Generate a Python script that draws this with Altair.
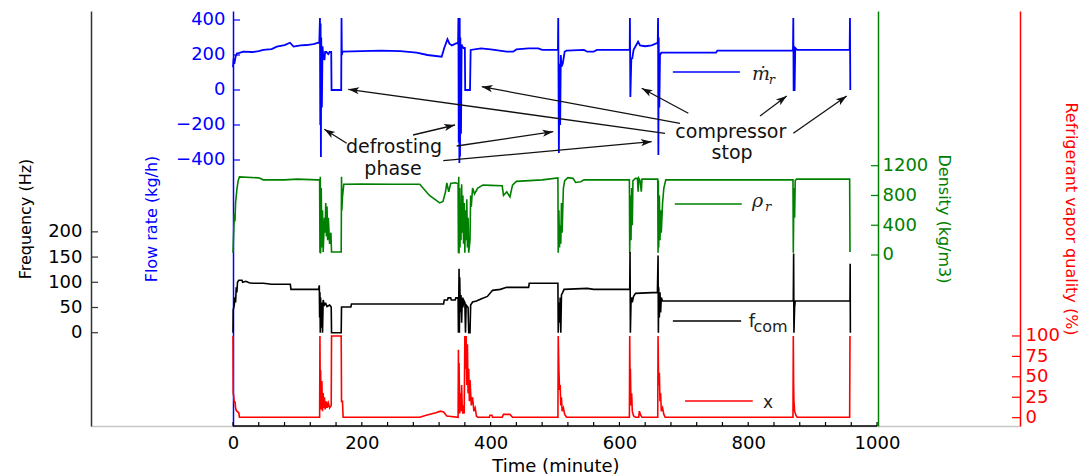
import math
import pandas as pd
import altair as alt

# ---------------- data (time in minutes) ----------------
flow_pts = [
    (0, 130), (1, 180), (2, 150), (4, 190), (6, 209), (10, 212), (16, 219), (30, 217), (40, 222), (47, 229),
    (60, 234), (68, 248), (80, 257), (88.5, 270), (94, 248), (105, 255), (114, 257), (125, 262), (132.5, 270),
    (134, 270), (135, 411), (135.5, -200), (136, 380), (136.5, -383), (137, 300), (138, -100), (139, 250),
    (140, 200), (142, 171), (143, 217), (145, 217), (148, 205), (150, 217), (152.5, 217), (153, 0), (168, 0),
    (168.5, 411), (169, 200), (170, 219), (200, 222), (230, 225), (260, 222), (285, 213), (302, 200), (324, 190),
    (328, 240), (333, 290), (336, 265), (340, 255), (347, 267), (349.5, 267),
    (350, 411), (350.5, -300), (351, 380), (351.5, -417), (352, 411), (352.5, -380), (353, 300), (354, -250),
    (355, 260), (356, 250), (358, 240), (360, 240), (360.5, 0), (368, 0), (369, 229),
    (385, 238), (400, 232), (425, 219), (435, 219), (440, 232), (459, 238), (474, 238), (480, 229), (504.5, 229),
    (505, 411), (506, -360), (507, 150), (508, -200), (509, 200), (510, 133), (512, 150), (515, 220), (518, 225),
    (545, 229), (550, 219), (560, 219), (565, 229), (616, 229),
    (616.3, 411), (617, -40), (618.5, 180), (620, 181), (622, 230), (629, 276), (632, 255), (640, 250), (650, 255),
    (658, 267), (659.5, 267),
    (660, 411), (660.5, -371), (661, 300), (662, -100), (663, 200), (665, 213), (750, 213), (752, 225), (869.5, 225),
    (870, 411), (870.5, 0), (872, 0), (873, 240), (876, 229), (957.5, 229), (958, 411), (958.5, 0),
]

dens_pts = [
    (0, 30), (1, 300), (2, 550), (3, 450), (4, 700), (6, 880), (8, 1000), (10, 1050), (40, 1037), (47, 1010),
    (80, 1010), (100, 1020), (130, 1010), (134.5, 1010),
    (135, 30), (135.5, 1050), (136, 20), (137, 900), (138, 100), (139, 600), (140, 40), (142, 500), (143, 300),
    (144, 700), (145, 250), (146, 650), (147, 200), (148, 500), (150, 150), (152, 300), (153, 40), (168, 40),
    (168.5, 1050), (169, 600), (170, 780), (172, 950),
    (200, 955), (250, 950), (290, 950), (305, 800), (321, 700), (326, 720), (330, 850), (332, 970), (335, 850),
    (338, 960), (345, 970), (349.5, 960),
    (350, 30), (350.5, 1050), (351, 20), (352, 900), (352.5, 100), (353, 700), (354, 200), (355, 950), (356, 300),
    (357, 800), (358, 150), (359, 700), (360, 30), (361, 600), (362, 200), (363, 750), (364, 100), (365, 500),
    (366, 30), (368, 200), (369, 800), (370, 650), (372, 900),
    (375, 820), (380, 900), (388, 940), (400, 935), (418, 930), (420, 800), (425, 850), (430, 780), (434, 940),
    (440, 990), (460, 1000), (480, 1010), (504.5, 1037),
    (505, 30), (506, 600), (507, 100), (508, 400), (509, 150), (510, 700), (511, 300), (513, 900), (515, 1000),
    (520, 1040), (528, 1030), (532, 975), (540, 985), (545, 1010), (615.5, 1010),
    (616, 30), (617, 800), (618, 200), (619, 900), (620, 400), (621, 1000), (625, 1030), (628, 1030), (629, 850),
    (630, 1030), (632, 1000), (634, 850), (635, 1020), (659.5, 1020),
    (660, 30), (660.5, 1000), (661, 100), (662, 800), (663, 200), (664, 600), (665, 300), (667, 700), (669, 900),
    (672, 1010), (869.5, 1010),
    (870, 30), (871, 900), (872, 500), (873, 1000), (875, 1020), (957.5, 1020), (958, 40),
]

freq_pts = [
    (0, 0), (0.3, 45), (2, 55), (3, 70), (4, 60), (5, 90), (6, 80), (7, 100), (9, 104), (14, 104), (15, 100),
    (20, 102), (25, 99), (30, 98), (47, 98), (60, 96), (89, 96), (90, 86), (133, 86),
    (134, 94), (134.5, 30), (135, 80), (135.5, 0), (136, 70), (137, 10), (138, 60), (139, 0), (140, 65), (142, 55),
    (144, 58), (146, 52), (150, 55), (152.5, 51), (153, 0), (168, 0), (168.5, 51), (183, 51), (184, 57), (327, 57),
    (328, 65), (333, 65), (334, 69), (338, 69), (339, 65), (345, 65), (346, 69), (349.5, 69),
    (350, 0), (351, 127), (351.5, 0), (352, 110), (353, 40), (354, 75), (355, 20), (356, 70), (357, 50), (358, 65),
    (360, 60), (361, 0), (362, 55), (365, 50), (366, 0), (368, 0), (369, 55), (372, 61),
    (378, 63), (385, 67), (395, 72), (403, 84), (415, 86), (425, 90), (459, 90), (460, 98), (504.5, 98),
    (505, 0), (506, 60), (507, 20), (508, 70), (509, 0), (510, 75), (512, 80), (514, 86), (550, 88), (560, 86),
    (616, 86), (616.5, 160), (617, 0), (618, 60), (619, 70), (620, 60), (622, 72), (625, 78), (659, 80),
    (660, 153), (660.5, 0), (661, 90), (662, 30), (663, 80), (664, 40), (665, 70), (667, 63), (870, 63),
    (870.5, 157), (871, 0), (872, 50), (873, 63), (958, 63), (958.3, 137), (958.6, 0),
]

qual_pts = [
    (0, 100), (0.3, 30), (1, 27), (2, 18), (3, 20), (4, 12), (5, 9), (6, 8), (9, 6), (10, 0.5), (134.5, 0.5),
    (135, 100), (135.5, 20), (136, 58), (137, 10), (138, 45), (139, 8), (140, 30), (141, 12), (142, 25), (143, 10),
    (145, 20), (146, 12), (148, 18), (150, 12), (152.5, 15), (153, 100), (168, 100), (168.5, 20), (170, 20),
    (171, 0.5), (290, 0.5), (300, 3), (315, 6), (322, 8), (327, 7), (332, 2), (349.5, 0.5),
    (350, 83), (350.5, 10), (351, 67), (352, 5), (353, 30), (354, 8), (355, 40), (356, 10), (357, 5), (358, 15),
    (359, 5), (360, 100), (361, 60), (362, 100), (363, 40), (364, 90), (365, 30), (366, 60), (367, 20), (368, 46),
    (370, 15), (372, 25), (374, 8), (376, 12), (378, 2), (380, 0.5),
    (398, 0.5), (399, 3), (402, 3), (403, 0.5), (418, 0.5), (420, 4), (430, 4), (434, 0.5), (504.5, 0.5),
    (505, 100), (506, 60), (507, 34), (508, 40), (509, 15), (510, 25), (511, 8), (513, 12), (515, 4), (518, 0.5),
    (615.5, 0.5), (616, 100), (616.5, 46), (617, 60), (618, 15), (619, 30), (620, 8), (622, 2), (625, 0.5),
    (630, 0.5), (631, 8), (633, 3), (635, 0.5), (659.5, 0.5),
    (660, 100), (660.5, 65), (661, 40), (662, 55), (663, 20), (664, 30), (665, 8), (667, 12), (669, 4), (671, 0.5),
    (869.5, 0.5), (870, 100), (870.5, 40), (871, 20), (872, 8), (874, 3), (876, 0.5), (957.5, 0.5), (958, 100),
]

time_ticks = list(range(0, 1001, 40))
time_labels = [0, 200, 400, 600, 800, 1000]
flow_ticks = [-400, -200, 0, 200, 400]
dens_ticks = [0, 400, 800, 1200]
freq_ticks = [0, 50, 100, 150, 200]
qual_ticks = [0, 25, 50, 75, 100]

# annotation texts: (text, time, pixel y from plot top)
notes = [("defrosting", 250, 136), ("phase", 248.5, 158), ("compressor", 773, 121), ("stop", 775, 142)]
# arrows: (time start, y start, time tip, y tip)
arrows = [
    (670.8, 122.3, 179.0, 78.3),
    (694.1, 112.3, 386.2, 75.7),
    (279.5, 124.0, 344.7, 114.0),
    (347.3, 135.0, 497.3, 120.7),
    (326.5, 149.7, 650.1, 130.7),
    (707.0, 102.3, 634.6, 77.3),
    (818.3, 105.0, 859.8, 85.0),
    (870.0, 122.3, 952.9, 85.0),
    (176.5, 132.3, 141.8, 118.3),
]
# legend entries
legend_lines = [(683, 787, 61, "#0000ff"), (686, 790, 193, "#008000"), (683, 789, 310, "#000000"), (702, 807, 390, "#ff0000")]
legend_syms = [("ṁ", 806, 69, 19), ("r", 832, 73, 13), ("ρ", 806, 196, 19), ("r", 826, 200, 13)]
legend_words = [("f", 801, 316, 18), ("com", 808, 321, 16), ("x", 823, 397, 17)]

# ---------------- layout / style ----------------
W, H = 929, 415
X_DOMAIN = [-220.5, 1222.0]
PX_PER_T = W / (X_DOMAIN[1] - X_DOMAIN[0])
FONT = "DejaVu Sans"
BLUE, GREEN, RED, BLACK = "#0000ff", "#008000", "#ff0000", "#000000"

XS = alt.Scale(domain=X_DOMAIN, nice=False, zero=False)
XAX = alt.Axis(title="Time (minute)", values=time_labels, format="d", ticks=False, grid=False, labelPadding=8,
               labelFontSize=18, titleFontSize=18, titleFontWeight="normal", titlePadding=5,
               labelColor=BLACK, titleColor=BLACK, domainColor="#c8c8c8", domainWidth=1.5,
               labelFont=FONT, titleFont=FONT, labelFlush=False, labelOverlap=False)


def X(field):
    return alt.X(f"{field}:Q", scale=XS, axis=XAX)


def yaxis(orient, offset, values, color, title, lp, tp, dcolor=None):
    return alt.Axis(orient=orient, offset=offset, values=values, format="d", title=title, ticks=False,
                    grid=False, domainColor=dcolor or color, domainWidth=1.5, labelColor=color,
                    titleColor=color, labelFontSize=18, titleFontSize=16, titleFontWeight="normal",
                    labelPadding=lp, titlePadding=tp, labelFont=FONT, titleFont=FONT,
                    labelOverlap=False, labelFlush=False)


def series(pts, field, color, domain, axis, width=1.6):
    df = pd.DataFrame(pts, columns=["t", field])
    return alt.Chart(df).mark_line(color=color, strokeWidth=width, interpolate="linear").encode(
        x=X("t"),
        y=alt.Y(f"{field}:Q", scale=alt.Scale(domain=domain, nice=False, zero=False), axis=axis),
    )


def tick_rules(values, field, domain, x0, x1, color):
    df = pd.DataFrame({field: values})
    return alt.Chart(df).mark_rule(color=color, strokeWidth=1.2).encode(
        y=alt.Y(f"{field}:Q", scale=alt.Scale(domain=domain, nice=False, zero=False), axis=None),
        x=alt.value(x0), x2=alt.value(x1),
    )


FLOW_D = [-1920, 451.4]
DENS_D = [-2298, 3279]
FREQ_D = [-185, 638]
QUAL_D = [-10.2, 497.8]

blue = series(flow_pts, "flow", BLUE, FLOW_D,
              yaxis("left", -142, flow_ticks, BLUE, "Flow rate (kg/h)", 8, 16), 1.8)
green = series(dens_pts, "dens", GREEN, DENS_D,
               yaxis("right", -142, dens_ticks, GREEN, "Density (kg/m3)", 4, 8))
black = series(freq_pts, "freq", BLACK, FREQ_D,
               yaxis("left", 0, freq_ticks, BLACK, "Frequency (Hz)", 9, 14, "#333333"))
red = series(qual_pts, "qual", RED, QUAL_D,
             yaxis("right", 0, qual_ticks, RED, "Refrigerant vapor quality (%)", 5, 3))

ticks_black = tick_rules(freq_ticks, "freq", FREQ_D, 0, 7, "#333333")
ticks_blue = tick_rules(flow_ticks, "flow", FLOW_D, 142, 149, BLUE)
ticks_green = tick_rules(dens_ticks, "dens", DENS_D, 780, 787, GREEN)
ticks_red = tick_rules(qual_ticks, "qual", QUAL_D, 921, 929, RED)

ticks_x = alt.Chart(pd.DataFrame({"t": time_ticks})).mark_rule(color=BLACK, strokeWidth=1.2).encode(
    x=X("t"), y=alt.value(H), y2=alt.value(H - 4))
base_x = alt.Chart(pd.DataFrame({"t0": [0], "t1": [1000]})).mark_rule(color=BLACK, strokeWidth=1.5).encode(
    x=X("t0"), x2="t1:Q", y=alt.value(H))

# arrows
adf = pd.DataFrame(arrows, columns=["t0", "y0", "t1", "y1"])
adf["ang"] = [math.degrees(math.atan2((r.t1 - r.t0) * PX_PER_T, -(r.y1 - r.y0))) % 360 for r in adf.itertuples()]
arrow_lines = alt.Chart(adf).mark_rule(color="#111111", strokeWidth=1.3).encode(
    x=X("t0"), x2="t1:Q", y=alt.Y("y0:Q", scale=None, axis=None), y2="y1:Q")
ARROW_PATH = "M0,0 L0.8,2.4 L0,1.8 L-0.8,2.4 Z"
arrow_heads = alt.Chart(adf).mark_point(shape=ARROW_PATH, filled=True, color="#111111", size=81, opacity=1,
                                         strokeWidth=0).encode(
    x=X("t1"), y=alt.Y("y1:Q", scale=None, axis=None), angle=alt.Angle("ang:Q", scale=None))

note_df = pd.DataFrame(notes, columns=["txt", "t", "y"])
note_text = alt.Chart(note_df).mark_text(font=FONT, fontSize=19, align="center", baseline="middle",
                                         color="#111111").encode(
    x=X("t"), y=alt.Y("y:Q", scale=None, axis=None), text="txt:N")

ll_df = pd.DataFrame(legend_lines, columns=["t0", "t1", "y", "c"])
leg_lines = alt.Chart(ll_df).mark_rule(strokeWidth=1.6).encode(
    x=X("t0"), x2="t1:Q", y=alt.Y("y:Q", scale=None, axis=None), color=alt.Color("c:N", scale=None))

ls_df = pd.DataFrame(legend_syms, columns=["txt", "t", "y", "sz"])
leg_syms = alt.Chart(ls_df).mark_text(font="DejaVu Serif", fontStyle="italic", align="left",
                                      baseline="alphabetic", color="#222222").encode(
    x=X("t"), y=alt.Y("y:Q", scale=None, axis=None), text="txt:N", size=alt.Size("sz:Q", scale=None))

lw_df = pd.DataFrame(legend_words, columns=["txt", "t", "y", "sz"])
leg_words = alt.Chart(lw_df).mark_text(font=FONT, align="left", baseline="alphabetic", color="#222222").encode(
    x=X("t"), y=alt.Y("y:Q", scale=None, axis=None), text="txt:N", size=alt.Size("sz:Q", scale=None))

chart = alt.layer(
    blue, green, black, red,
    ticks_black, ticks_blue, ticks_green, ticks_red, ticks_x, base_x,
    arrow_lines, arrow_heads, note_text, leg_lines, leg_syms, leg_words,
).resolve_scale(y="independent").properties(
    width=W, height=H,
    padding={"left": 83, "top": 3, "right": 62, "bottom": 50},
    autosize=alt.AutoSizeParams(type="none"),
    background="white",
).configure_view(stroke=None)

chart.save("out.html", embed_options={"renderer": "svg", "actions": False})
